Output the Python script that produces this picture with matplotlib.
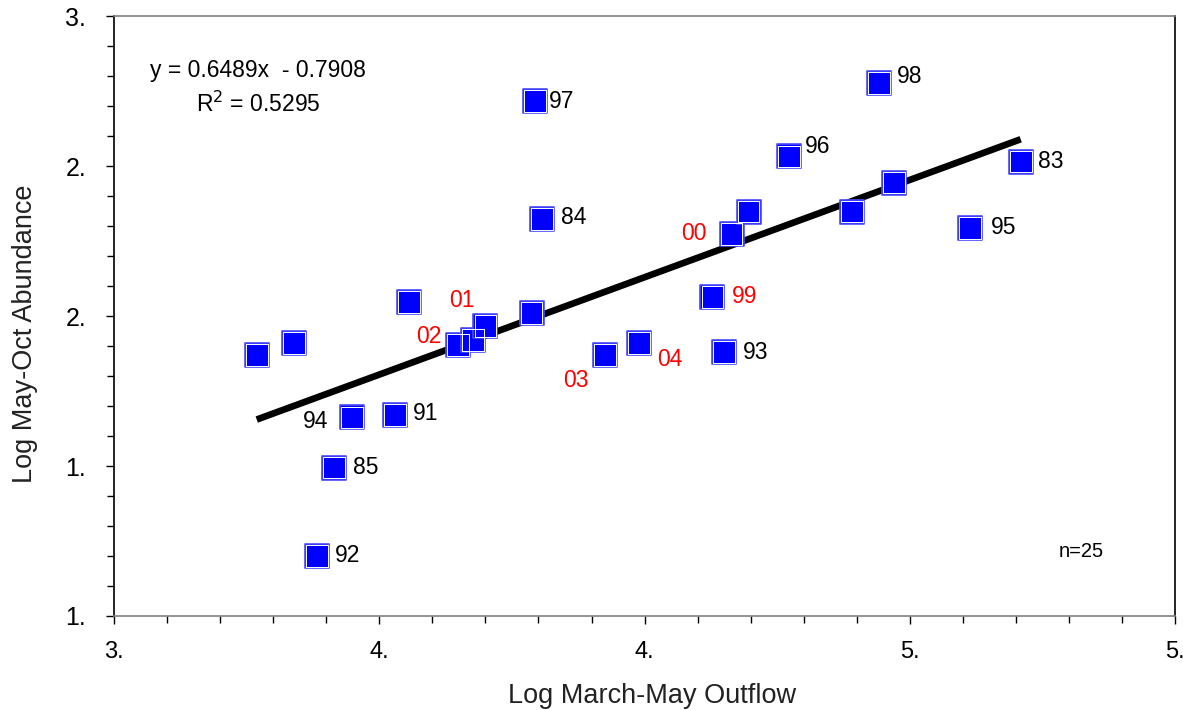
import matplotlib
matplotlib.use("Agg")
import matplotlib.pyplot as plt
from matplotlib.ticker import FixedLocator, FixedFormatter, MultipleLocator
import numpy as np

plt.rcParams['font.family'] = ['Liberation Sans', 'DejaVu Sans']

# ---- data ----
outflow = [3.769, 3.839, 3.948, 4.030, 3.914, 3.882, 4.056, 4.149, 4.177, 4.200,
           4.287, 4.293, 4.306, 4.425, 4.490, 4.628, 4.650, 4.664, 4.696, 4.772,
           4.891, 4.942, 4.970, 5.114, 5.209]
abundance = [1.870, 1.910, 1.662, 1.669, 1.495, 1.201, 2.047, 1.903, 1.920, 1.967,
             2.010, 2.716, 2.324, 1.870, 1.910, 2.064, 1.880, 2.274, 2.348, 2.532,
             2.348, 2.776, 2.445, 2.294, 2.515]
year_labels = ["", "", "94", "91", "85", "92", "", "02", "", "01",
               "", "97", "84", "03", "04", "99", "93", "00", "", "96",
               "", "98", "", "95", "83"]
recent_years = {"99", "00", "01", "02", "03", "04"}

slope = 0.6489
intercept = -0.7908
r_squared = 0.5295
n_points = 25

x_ticks = [3.5, 4.0, 4.5, 5.0, 5.5]
x_tick_labels = ["3.", "4.", "4.", "5.", "5."]
y_ticks = [1.0, 1.5, 2.0, 2.5, 3.0]
y_tick_labels = ["1.", "1.", "2.", "2.", "3."]

# label offsets (points), layout only
label_offsets = {
    "94": (-26, -3), "91": (22, 1), "85": (23, 0), "92": (22, 0),
    "01": (-17, 18), "02": (-21, 6), "97": (19, 0), "84": (23, 1),
    "03": (-21, -18), "04": (22, -12), "99": (23, 0), "93": (23, 0),
    "00": (-27, 0), "96": (21, 7), "98": (22, 5), "95": (24, 0), "83": (22, 0),
}

fig = plt.figure(figsize=(11.83, 7.10), dpi=100)
ax = fig.add_axes([0.0964, 0.1324, 0.8969, 0.845])

# trend line
xs = np.array([min(outflow), max(outflow)])
ax.plot(xs, slope * xs + intercept, color='black', lw=4.8, solid_capstyle='butt', zorder=2)

# markers
ax.scatter(outflow, abundance, marker='s', s=310, facecolor='#0000ff',
           edgecolor='#4a4aff', linewidths=1.2, zorder=3)
ax.scatter(outflow, abundance, marker='s', s=245, facecolor='none',
           edgecolor='white', linewidths=0.7, zorder=4)

for x, y, lab in zip(outflow, abundance, year_labels):
    if not lab:
        continue
    col = 'red' if lab in recent_years else 'black'
    ax.annotate(lab, (x, y), xytext=label_offsets.get(lab, (22, 0)),
                textcoords='offset points', ha='center', va='center',
                fontsize=16.5, color=col, zorder=5)

ax.set_xlim(3.5, 5.5)
ax.set_ylim(1.0, 3.0)
ax.xaxis.set_major_locator(FixedLocator(x_ticks))
ax.xaxis.set_major_formatter(FixedFormatter(x_tick_labels))
ax.yaxis.set_major_locator(FixedLocator(y_ticks))
ax.yaxis.set_major_formatter(FixedFormatter(y_tick_labels))
ax.xaxis.set_minor_locator(MultipleLocator(0.1))
ax.yaxis.set_minor_locator(MultipleLocator(0.1))
ax.tick_params(which='major', direction='out', length=6, width=1, colors='black')
ax.tick_params(which='minor', direction='out', length=5, width=1)
ax.tick_params(axis='x', which='major', pad=12, labelsize=17)
ax.tick_params(axis='y', which='major', pad=14, labelsize=18)

for side in ['left', 'right']:
    ax.spines[side].set_color('black')
for side in ['top', 'bottom']:
    ax.spines[side].set_color('#808080')
for sp in ax.spines.values():
    sp.set_linewidth(1.2)

ax.set_xlabel("Log March-May Outflow", fontsize=19.5, color='#222222')
ax.set_ylabel("Log May-Oct Abundance", fontsize=19.5, color='#222222')
ax.xaxis.set_label_coords(0.507, -0.112)
ax.yaxis.set_label_coords(-0.0716, 0.47)

ax.text(0.034, 0.91, f"y = {slope:.4f}x  - {abs(intercept):.4f}", transform=ax.transAxes,
        fontsize=16.5, ha='left', va='center')
ax.text(0.077, 0.853, f"R$^2$ = {r_squared:.4f}", transform=ax.transAxes,
        fontsize=16.5, ha='left', va='center')
ax.text(0.89, 0.107, f"n={n_points}", transform=ax.transAxes, fontsize=14.5,
        ha='left', va='center')

fig.savefig("out.png", dpi=100)
